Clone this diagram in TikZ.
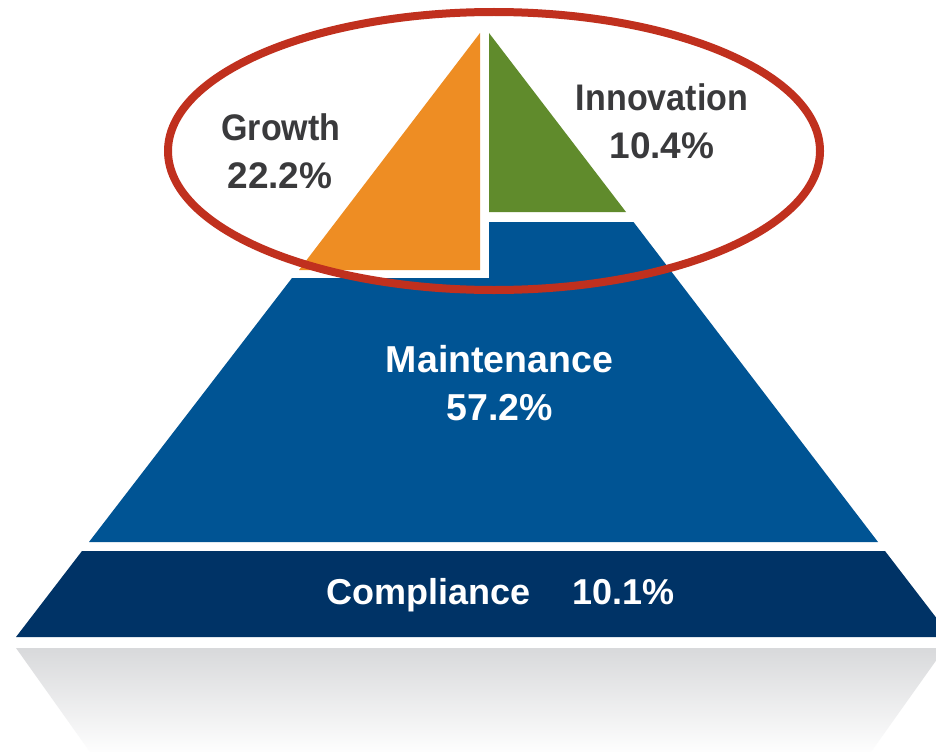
\documentclass[tikz,border=0pt]{standalone}
\usepackage{fontspec}
\setmainfont{Liberation Sans}
\newfontfamily\headfont{Liberation Sans}[FakeStretch=0.92]
\definecolor{orng}{RGB}{238,141,35}
\definecolor{grn}{RGB}{96,139,44}
\definecolor{blu}{RGB}{0,84,148}
\definecolor{navy}{RGB}{0,51,102}
\definecolor{ellred}{RGB}{192,48,30}
\definecolor{labelgray}{RGB}{58,58,60}
\definecolor{refl}{RGB}{216,217,219}
\begin{document}
\begin{tikzpicture}[x=1pt,y=-1pt,
  wordlbl/.style={font=\headfont\bfseries\fontsize{37}{40}\selectfont, text=labelgray, inner sep=0pt, anchor=base},
  numlbl/.style={font=\bfseries\fontsize{37}{40}\selectfont, text=labelgray, inner sep=0pt, anchor=base},
  whitelbl/.style={font=\bfseries\fontsize{37.5}{40}\selectfont, text=white, inner sep=0pt, anchor=base},
  complbl/.style={font=\bfseries\fontsize{36}{40}\selectfont, text=white, inner sep=0pt, anchor=base},
  ring/.style={draw=ellred, line width=8pt}
]
\useasboundingbox (0,0) rectangle (936,752);
\clip (0,0) rectangle (936,752);
\fill[white] (0,0) rectangle (936,752);
% reflection
\shade[top color=refl, bottom color=white!96!refl] (16,648) -- (945,648) -- (871,752) -- (90,752) -- cycle;
% compliance band
\fill[navy] (82,551) -- (885,551) -- (951,637) -- (16,637) -- cycle;
% maintenance
\fill[blu] (292,278) -- (489,278) -- (489,222) -- (633.5,222) -- (878,542) -- (89,542) -- cycle;
% growth
\fill[orng] (480,33) -- (480,270) -- (299,270) -- cycle;
% innovation
\fill[grn] (489,33) -- (489,212) -- (626,212) -- cycle;
% ellipse
\draw[ring] (494,151) ellipse [x radius=326, y radius=139];
% labels
\node[wordlbl] (growth) at (281,140) {Growth};
\node[numlbl] (growthpct) at (280,188) {22.2\%};
\node[wordlbl] (innov) at (662,110) {Innovation};
\node[numlbl] (innovpct) at (662,158) {10.4\%};
\node[whitelbl] (maint) at (499.5,372) {Maintenance};
\node[whitelbl] (maintpct) at (500,420) {57.2\%};
\node[complbl] (compl) at (500.5,604.5) {Compliance\hspace{42pt}10.1\%};
\end{tikzpicture}
\end{document}
